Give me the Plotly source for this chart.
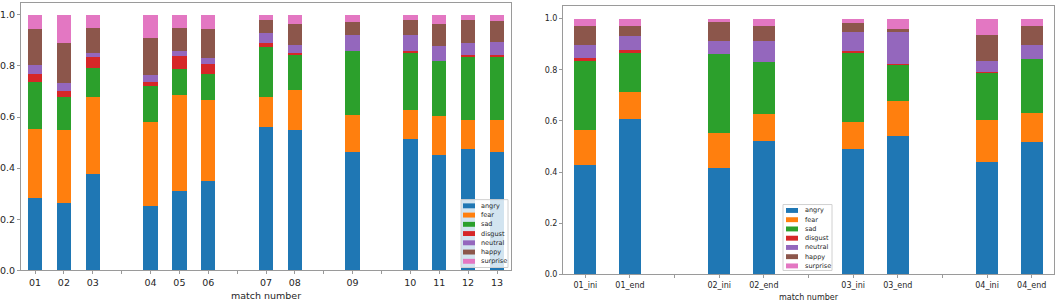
import plotly.graph_objects as go

# ---------------- data ----------------
emotions = ["angry", "fear", "sad", "disgust", "neutral", "happy", "surprise"]
colors = ["#1f77b4", "#ff7f0e", "#2ca02c", "#d62728", "#9467bd", "#8c564b", "#e377c2"]

# left chart: tick labels ("" = empty gap tick)
left_ticks = ["01", "02", "03", "", "04", "05", "06", "", "07", "08", "", "09", "", "10", "11", "12", "13"]
left_angry    = [0.285, 0.265, 0.378, 0.253, 0.312, 0.350, 0.560, 0.550, 0.465, 0.515, 0.450, 0.474, 0.462]
left_fear     = [0.269, 0.284, 0.299, 0.328, 0.373, 0.315, 0.120, 0.155, 0.145, 0.112, 0.155, 0.114, 0.128]
left_sad      = [0.184, 0.131, 0.114, 0.141, 0.103, 0.104, 0.193, 0.141, 0.249, 0.226, 0.215, 0.249, 0.247]
left_disgust  = [0.032, 0.020, 0.042, 0.015, 0.049, 0.039, 0.015, 0.004, 0.000, 0.007, 0.000, 0.007, 0.005]
left_neutral  = [0.033, 0.032, 0.017, 0.027, 0.022, 0.024, 0.040, 0.032, 0.060, 0.059, 0.058, 0.046, 0.050]
left_happy    = [0.142, 0.159, 0.099, 0.146, 0.088, 0.114, 0.053, 0.083, 0.053, 0.059, 0.087, 0.088, 0.084]
left_surprise = [0.055, 0.109, 0.051, 0.090, 0.053, 0.054, 0.019, 0.035, 0.028, 0.022, 0.035, 0.022, 0.024]

# right chart
right_ticks = ["01_ini", "01_end", "", "02_ini", "02_end", "", "03_ini", "03_end", "", "04_ini", "04_end"]
right_angry    = [0.428, 0.609, 0.418, 0.522, 0.491, 0.543, 0.440, 0.519]
right_fear     = [0.136, 0.104, 0.136, 0.105, 0.106, 0.136, 0.166, 0.111]
right_sad      = [0.272, 0.155, 0.309, 0.203, 0.268, 0.141, 0.182, 0.211]
right_disgust  = [0.010, 0.009, 0.000, 0.000, 0.008, 0.002, 0.002, 0.000]
right_neutral  = [0.050, 0.055, 0.050, 0.082, 0.074, 0.127, 0.043, 0.055]
right_happy    = [0.074, 0.041, 0.073, 0.061, 0.035, 0.013, 0.102, 0.074]
right_surprise = [0.030, 0.027, 0.014, 0.027, 0.018, 0.038, 0.065, 0.030]

left_series = [left_angry, left_fear, left_sad, left_disgust, left_neutral, left_happy, left_surprise]
right_series = [right_angry, right_fear, right_sad, right_disgust, right_neutral, right_happy, right_surprise]

W, H = 1056, 302

def px(x):
    return x / W

def py(y):
    return 1 - y / H

left_x = [i for i, t in enumerate(left_ticks) if t]
right_x = [i for i, t in enumerate(right_ticks) if t]

fig = go.Figure()
for name, col, vals in zip(emotions, colors, left_series):
    fig.add_trace(go.Bar(x=left_x, y=vals, name=name, marker=dict(color=col, line=dict(width=0)),
                         width=0.5, xaxis="x", yaxis="y", showlegend=False))
for name, col, vals in zip(emotions, colors, right_series):
    fig.add_trace(go.Bar(x=right_x, y=vals, name=name, marker=dict(color=col, line=dict(width=0)),
                         width=0.5, xaxis="x2", yaxis="y2", showlegend=False))

axis_line = "#9a9a9a"
txt = "#262626"
font_family = "DejaVu Sans"

def xaxis(domain, ticks, rng, fs, anchor):
    return dict(domain=domain, range=rng, tickmode="array", tickvals=list(range(len(ticks))),
                ticktext=ticks, showgrid=False, zeroline=False, showline=True, linecolor=axis_line,
                linewidth=1, mirror=True, ticks="outside", ticklen=3, tickcolor=axis_line,
                tickfont=dict(size=fs, color=txt, family=font_family), anchor=anchor,
                title=dict(text="match number", font=dict(size=fs, color=txt, family=font_family), standoff=5))

def yaxis(domain, rng, fs, anchor):
    return dict(domain=domain, range=rng, tickmode="array", tickvals=[0, 0.2, 0.4, 0.6, 0.8, 1.0],
                tickformat=".1f", showgrid=False, zeroline=False, showline=True, linecolor=axis_line,
                linewidth=1, mirror=True, ticks="outside", ticklen=3, tickcolor=axis_line,
                tickfont=dict(size=fs, color=txt, family=font_family), anchor=anchor)

fig.update_layout(
    width=W, height=H, autosize=False,
    margin=dict(l=0, r=0, t=0, b=0),
    paper_bgcolor="white", plot_bgcolor="white",
    barmode="stack", bargap=0,
    font=dict(family=font_family, color=txt),
    xaxis=xaxis([px(21), px(511)], left_ticks, [-0.485, 16.485], 9.5, "y"),
    yaxis=yaxis([py(275), py(3)], [0, 1.046], 9.5, "x"),
    xaxis2=xaxis([px(563), px(1054)], right_ticks, [-0.5, 10.5], 8, "y2"),
    yaxis2=yaxis([py(279), py(6)], [0, 1.05], 8, "x2"),
)

# custom compact legends (matplotlib style)
def add_legend(box, sw_x0, sw_x1, text_x, y0, step, fs):
    shapes = [dict(type="rect", xref="paper", yref="paper", x0=px(box[0]), x1=px(box[1]),
                   y0=py(box[3]), y1=py(box[2]), fillcolor="rgba(255,255,255,0.8)",
                   line=dict(color="#d0d0d0", width=1), layer="above")]
    anns = []
    for i, (name, col) in enumerate(zip(emotions, colors)):
        yc = y0 + i * step
        shapes.append(dict(type="rect", xref="paper", yref="paper", x0=px(sw_x0), x1=px(sw_x1),
                           y0=py(yc + 2.5), y1=py(yc - 2.5), fillcolor=col, line=dict(width=0),
                           layer="above"))
        anns.append(dict(xref="paper", yref="paper", x=px(text_x), y=py(yc), text=name,
                         showarrow=False, xanchor="left", yanchor="middle",
                         font=dict(size=fs, color=txt, family=font_family)))
    return shapes, anns

s1, a1 = add_legend((461, 508, 203, 272), 463, 475, 479, 209.3, 9.4, 6.5)
s2, a2 = add_legend((783, 832, 208, 275), 786, 798, 803, 214, 9.4, 6.5)
fig.update_layout(shapes=s1 + s2, annotations=a1 + a2)

fig.write_html("out.html", config={"displayModeBar": False},
               post_script="document.body.style.margin='0';document.body.style.overflow='hidden';")
